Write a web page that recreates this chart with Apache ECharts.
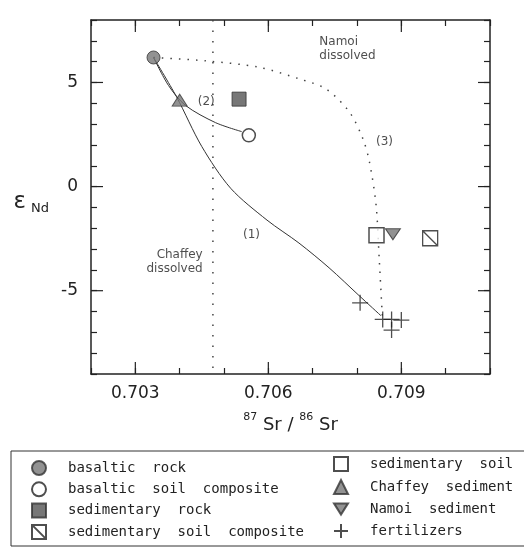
<!DOCTYPE html>
<html>
<head>
<meta charset="utf-8">
<script src="https://cdn.jsdelivr.net/npm/echarts@6/dist/echarts.min.js"></script>
<style>
html, body { margin: 0; padding: 0; background: #fff; }
#chart { width: 524px; height: 547px; }
</style>
</head>
<body>
<div id="chart"></div>
<script>
// 87Sr/86Sr (x) against eps Nd (y)
const basalticRock = [[0.70341, 6.2]]
const basalticSoilComposite = [[0.70556, 2.46]]
const sedimentaryRock = [[0.70534, 4.2]]
const sedimentarySoilComposite = [[0.70965, -2.48]]
const sedimentarySoil = [[0.70844, -2.34]]
const chaffeySediment = [[0.70400, 4.15]]
const namoiSediment = [[0.70881, -2.29]]
const fertilizers = [[0.70807, -5.58], [0.70858, -6.38], [0.70878, -6.38], [0.70878, -6.89], [0.70900, -6.41]]

// mixing curves (1), (2), (3)
const curve1 = [[0.70341, 6.2], [0.70393, 4.31], [0.70450, 1.92], [0.70515, -0.08], [0.70597, -1.61],
    [0.70669, -2.71], [0.70737, -3.90], [0.70805, -5.24], [0.70854, -6.2]]
const curve2 = [[0.70341, 6.2], [0.70375, 4.85], [0.70413, 3.9], [0.70481, 3.07], [0.70540, 2.64]]
const curve3 = [[0.70341, 6.2], [0.70458, 6.04], [0.70579, 5.73], [0.70670, 5.17], [0.70730, 4.69],
    [0.70783, 3.58], [0.70813, 2.31], [0.70828, 1.19], [0.70843, -0.88], [0.70850, -3.42], [0.70857, -6.19]]
const chaffeyDissolvedLine = [[0.70475, 8], [0.70475, -9]]

// labelled ticks (drawn long), every 0.001 / 1 unit gets a short one
const xTickLabels = ['0.703', '0.706', '0.709']
const yTickLabels = ['-5', '0', '5']

const noteText = ['Namoi\ndissolved', '(3)', '(2)', '(1)', 'Chaffey\ndissolved']
const noteX = [0.70715, 0.70862, 0.70460, 0.70562, 0.70452]
const noteY = [6.6, 2.16, 4.07, -2.31, -3.61]
const noteAlign = ['left', 'center', 'center', 'center', 'right']

const ink = '#222'
const font = 'DejaVu Sans'
const plotRect = { left: 91, right: 34, top: 20, bottom: 173 }

const xBase = { type: 'value', min: 0.702, max: 0.711, interval: 0.001 }
const yBase = { type: 'value', min: -9, max: 8, interval: 1 }
const line = { show: true, onZero: false, lineStyle: { color: ink, width: 1.5 } }
const minor = { show: true, inside: true, length: 6, lineStyle: { color: ink, width: 1.2 } }

function frameAxis(gridIndex, position, extra) {
    return Object.assign({
        gridIndex: gridIndex,
        position: position,
        splitLine: { show: false },
        axisLine: line,
        axisLabel: { show: false },
        axisTick: minor
    }, extra)
}

const xAxes = [
    frameAxis(0, 'bottom', Object.assign({}, xBase, {
        axisLabel: {
            show: true, fontSize: 17, fontFamily: font, color: ink, margin: 11,
            formatter: v => xTickLabels.includes((+v).toFixed(3)) ? (+v).toFixed(3) : ''
        },
        name: '{sup|87}{b| Sr / }{sup|86}{b| Sr}',
        nameLocation: 'middle',
        nameGap: 38,
        nameTextStyle: {
            color: ink, fontFamily: font,
            rich: {
                b: { fontSize: 18, lineHeight: 26, fontFamily: font, color: ink },
                sup: { fontSize: 11, lineHeight: 11, verticalAlign: 'top', fontFamily: font, color: ink }
            }
        }
    })),
    frameAxis(1, 'top', Object.assign({}, xBase))
]

const yAxes = [
    frameAxis(0, 'left', Object.assign({}, yBase, {
        axisLabel: {
            show: true, fontSize: 17, fontFamily: font, color: ink, margin: 13,
            formatter: v => yTickLabels.includes(String(Math.round(v))) ? String(Math.round(v)) : ''
        },
        name: '{e|ε}{sub|Nd}',
        nameLocation: 'middle',
        nameRotate: 0,
        nameGap: 42,
        nameTextStyle: {
            color: ink, fontFamily: font, padding: [12, 0, 0, 0],
            rich: {
                e: { fontSize: 23, lineHeight: 24, verticalAlign: 'top', fontFamily: font, color: ink },
                sub: { fontSize: 13, lineHeight: 14, verticalAlign: 'bottom', padding: [24, 0, 0, 5], fontFamily: font, color: ink }
            }
        }
    })),
    frameAxis(1, 'right', Object.assign({}, yBase))
]

function curve(data, style) {
    return { type: 'line', data: data, showSymbol: false, silent: true, smooth: 0.3, z: 1, lineStyle: style }
}

function marks(name, data, symbol, size, itemStyle) {
    return { type: 'scatter', name: name, data: data, symbol: symbol, symbolSize: size, z: 3, itemStyle: itemStyle }
}

const notes = noteText.map((t, i) => ({
    value: [noteX[i], noteY[i]],
    label: { formatter: t, align: noteAlign[i] }
}))

const legendText = {
    fontFamily: 'DejaVu Sans Mono', fontSize: 14, lineHeight: 14, color: ink, padding: [0, 0, 0, 17]
}

const legendBox = {
    type: 'rect', id: 'legendBox', shape: { x: 11, y: 451, width: 530, height: 95 },
    style: { fill: 'none', stroke: '#333', lineWidth: 1 }
}

const option = {
    animation: false,
    backgroundColor: '#fff',
    grid: [plotRect, plotRect],
    xAxis: xAxes,
    yAxis: yAxes,
    legend: [{
        orient: 'vertical', left: 31, top: 460, height: 120, padding: 0, itemWidth: 14, itemHeight: 14, itemGap: 5.3,
        selectedMode: false, textStyle: legendText,
        formatter: n => n.split(' ').join('  '),
        data: ['basaltic rock', 'basaltic soil composite', 'sedimentary rock', 'sedimentary soil composite']
    }, {
        orient: 'vertical', left: 333, top: 456, height: 120, padding: 0, itemWidth: 14, itemHeight: 14, itemGap: 7,
        selectedMode: false, textStyle: legendText,
        formatter: n => n.split(' ').join('  '),
        data: ['sedimentary soil', 'Chaffey sediment', 'Namoi sediment', 'fertilizers']
    }],
    graphic: [legendBox],
    series: [
        curve(curve1, { color: '#333', width: 1 }),
        curve(curve2, { color: '#333', width: 1 }),
        curve(curve3, { color: '#444', width: 1.5, type: [1.5, 7] }),
        { type: 'line', data: chaffeyDissolvedLine, showSymbol: false, silent: true, z: 1,
          lineStyle: { color: '#444', width: 1.5, type: [1.5, 9] } },
        {
            type: 'scatter', name: 'notes', data: notes, symbolSize: 0, silent: true, z: 4,
            label: { show: true, position: 'inside', fontFamily: font, fontSize: 12, lineHeight: 14, color: ink }
        },
        marks('basaltic rock', basalticRock, 'circle', 13, { color: '#777', borderColor: '#333', borderWidth: 1 }),
        marks('basaltic soil composite', basalticSoilComposite, 'circle', 13, { color: '#fff', borderColor: ink, borderWidth: 1.5 }),
        marks('sedimentary rock', sedimentaryRock, 'rect', 14, { color: '#555', borderColor: '#333', borderWidth: 1 }),
        marks('sedimentary soil composite', sedimentarySoilComposite, 'path://M0,0H10V10H0Z M0,0L10,10', 15,
            { color: '#fff', borderColor: ink, borderWidth: 1.3 }),
        marks('sedimentary soil', sedimentarySoil, 'rect', 15, { color: '#fff', borderColor: ink, borderWidth: 1.5 }),
        marks('Chaffey sediment', chaffeySediment, 'triangle', [15, 12], { color: '#777', borderColor: '#333', borderWidth: 1 }),
        marks('Namoi sediment', namoiSediment, 'path://M0,0L10,0L5,8Z', [15, 11], { color: '#777', borderColor: '#333', borderWidth: 1 }),
        marks('fertilizers', fertilizers, 'path://M5,0V10M0,5H10', 16, { color: ink, borderColor: ink, borderWidth: 1.3 })
    ]
}

const myChart = echarts.init(document.getElementById('chart'))
myChart.setOption(option)

// long ticks at the labelled values, placed through the chart's own scales
const tickLen = 12
const tickStyle = { stroke: ink, lineWidth: 1.2 }
const longTicks = []
xTickLabels.forEach(t => {
    const v = Number(t)
    const bottom = myChart.convertToPixel({ gridIndex: 0 }, [v, yBase.min])
    const top = myChart.convertToPixel({ gridIndex: 0 }, [v, yBase.max])
    longTicks.push({ type: 'line', shape: { x1: bottom[0], y1: bottom[1], x2: bottom[0], y2: bottom[1] - tickLen }, style: tickStyle })
    longTicks.push({ type: 'line', shape: { x1: top[0], y1: top[1], x2: top[0], y2: top[1] + tickLen }, style: tickStyle })
})
yTickLabels.forEach(t => {
    const v = Number(t)
    const left = myChart.convertToPixel({ gridIndex: 0 }, [xBase.min, v])
    const right = myChart.convertToPixel({ gridIndex: 0 }, [xBase.max, v])
    longTicks.push({ type: 'line', shape: { x1: left[0], y1: left[1], x2: left[0] + tickLen, y2: left[1] }, style: tickStyle })
    longTicks.push({ type: 'line', shape: { x1: right[0], y1: right[1], x2: right[0] - tickLen, y2: right[1] }, style: tickStyle })
})
myChart.setOption({ graphic: [legendBox].concat(longTicks) })
</script>
</body>
</html>
